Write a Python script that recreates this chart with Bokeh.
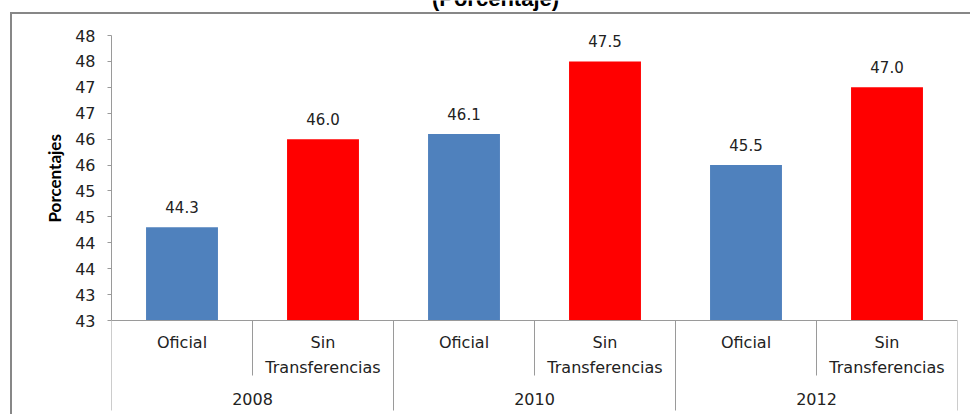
import numpy as np
from bokeh.plotting import figure
from bokeh.models import Range1d, FixedTicker, ColumnDataSource, Title
from bokeh.core.properties import value
from bokeh.embed import file_html
from bokeh.resources import INLINE

# ---- data ----
years = ["2008", "2010", "2012"]
series = ["Oficial", "Sin\nTransferencias"]
oficial = [44.3, 46.1, 45.5]
sin_transferencias = [46.0, 47.5, 47.0]
y_ticks = [42.5, 43.0, 43.5, 44.0, 44.5, 45.0, 45.5, 46.0, 46.5, 47.0, 47.5, 48.0]
y_tick_labels = ["43", "43", "44", "44", "45", "45", "46", "46", "47", "47", "48", "48"]
title_text = "(Porcentaje)"
y_label = "Porcentajes"
series_colors = ["#4F81BD", "#FF0000"]

# ---- layout constants (pixels) ----
W, H = 962, 414
top_px, base_px = 35, 320          # where the top / bottom ticks sit on the canvas
base = y_ticks[0]
top = y_ticks[-1]
scale = (top - base) / (base_px - top_px)
y_end = top + top_px * scale
y_start = base - (H - base_px) * scale

n_groups = len(years)
n_series = len(series)
n_cats = n_groups * n_series

xs, tops, cols, labels = [], [], [], []
for g in range(n_groups):
    vals = [oficial[g], sin_transferencias[g]]
    for s in range(n_series):
        xs.append(g * n_series + s + 0.5)
        tops.append(vals[s])
        cols.append(series_colors[s])
        labels.append(f"{vals[s]:.1f}")
src = ColumnDataSource(dict(x=xs, top=tops, color=cols, label=labels))

border_css = ("linear-gradient(#878787,#878787) 2px 12px / calc(100% - 2px) 2px no-repeat, "
              "linear-gradient(#878787,#878787) 2px 12px / 2px calc(100% - 12px) no-repeat")

p = figure(width=W, height=H, x_range=Range1d(0, n_cats), y_range=Range1d(y_start, y_end),
           output_backend="svg", toolbar_location=None, x_axis_location=None,
           min_border_left=103, min_border_right=13, min_border_top=0, min_border_bottom=0,
           margin=(0, 0, 0, 8), border_fill_color=None, background_fill_color=None,
           outline_line_color=None, styles={"background": border_css})
p.grid.visible = False

# y axis
ax = p.yaxis[0]
ax.bounds = (base, top)
ax.ticker = FixedTicker(ticks=y_ticks)
ax.major_label_overrides = {t: l for t, l in zip(y_ticks, y_tick_labels)}
ax.axis_line_color = "#9a9a9a"
ax.major_tick_line_color = "#9a9a9a"
ax.major_tick_out = 4
ax.major_tick_in = 0
ax.minor_tick_line_color = None
ax.major_label_standoff = 12
ax.major_label_text_font = "DejaVu Sans"
ax.major_label_text_font_size = "16px"
ax.major_label_text_color = "#222222"

# y-axis title, placed along the tick span (offset up from the frame bottom)
p.add_layout(Title(text=y_label, align="left", offset=192, standoff=15, text_font="Lato",
                   text_font_style="bold", text_font_size="17px", text_color="#000000"),
             "left")

# bars
p.vbar(x="x", top="top", bottom=base, width=0.51, fill_color="color", line_color=None, source=src)

# value labels
p.text(x="x", y="top", text="label", source=src, y_offset=-20, text_align="center",
       text_baseline="middle", text_font=value("DejaVu Sans"), text_font_size="15px",
       text_color="#222222")

# category axis
grid_col = "#9a9a9a"
p.segment(x0=[0], y0=[base], x1=[n_cats], y1=[base], line_color=grid_col, line_width=1)
inner = [g * n_series + 1 for g in range(n_groups)]
outer = [g * n_series for g in range(n_groups + 1)]
p.ray(x=inner, y=[base] * len(inner), length=55, length_units="screen", angle=-np.pi / 2,
      line_color=grid_col, line_width=1)
p.ray(x=outer, y=[base] * len(outer), length=90, length_units="screen", angle=-np.pi / 2,
      line_color=grid_col, line_width=1)

cat_x = [g * n_series + s + 0.5 for g in range(n_groups) for s in range(n_series)]
cat_t = [series[s] for g in range(n_groups) for s in range(n_series)]
p.text(x=cat_x, y=[base] * len(cat_x), text=cat_t, y_offset=12, text_align="center",
       text_baseline="top", text_line_height=1.35, text_font=value("DejaVu Sans"),
       text_font_size="16px", text_color="#222222")

year_x = [g * n_series + n_series / 2 for g in range(n_groups)]
p.text(x=year_x, y=[base] * n_groups, text=years, y_offset=78, text_align="center",
       text_baseline="middle", text_font=value("DejaVu Sans"), text_font_size="16px",
       text_color="#222222")

# title (mostly cut off at the top of the page)
p.text(x=[n_cats / 2], y=[top], text=[title_text], x_offset=-39, y_offset=-37,
       text_align="center", text_baseline="alphabetic", text_font=value("Liberation Sans"),
       text_font_style="bold", text_font_size="22px", text_color="#000000")

open("out.html", "w").write(file_html(p, INLINE))
